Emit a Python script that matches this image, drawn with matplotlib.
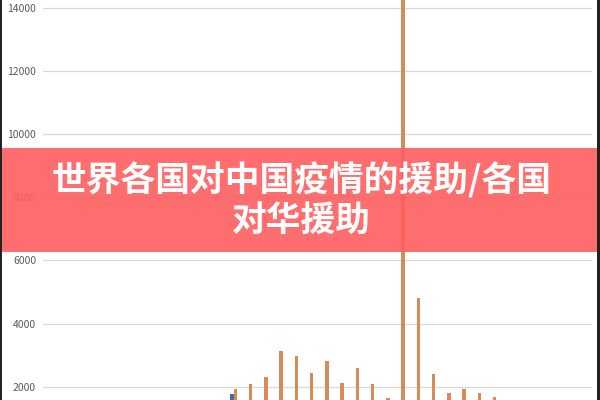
import numpy as np
import matplotlib.pyplot as plt
from matplotlib.patches import Rectangle

plt.rcParams['font.family'] = ['Noto Sans CJK SC', 'DejaVu Sans']

# 36 categories, x labels are cut off in the reference
categories = [str(i + 1) for i in range(36)]
series_a = [60, 80, 110, 90, 150, 130, 200, 180, 260, 240, 320, 400,
            1770, 300, 260, 350, 280, 240, 300, 220, 260, 210, 190, 600,
            420, 260, 200, 180, 160, 150, 120, 100, 90, 70, 60, 50]
series_b = [120, 180, 250, 310, 380, 450, 520, 640, 760, 880, 1050, 1300,
            1930, 2090, 2320, 3140, 2970, 2450, 2830, 2110, 2590, 2090, 1640, 14800,
            4800, 2400, 1810, 1920, 1790, 1690, 1400, 1200, 1000, 800, 600, 400]
y_ticks = [2000, 4000, 6000, 8000, 10000, 12000, 14000]

BLUE = '#4a6b9c'
ORANGE = '#d88b55'

fig = plt.figure(figsize=(6, 4), dpi=100)
ax = fig.add_axes([43 / 600, -50 / 400, 549 / 600, 450 / 400])

x = np.arange(len(categories))
w = 0.23
ax.bar(x - w / 2, series_a, width=w, color=BLUE, zorder=2)
ax.bar(x + w / 2, series_b, width=w, color=ORANGE, zorder=2)

ax.set_xlim(-0.5, len(categories) - 0.5)
ax.set_ylim(0, 14240)
ax.set_yticks(y_ticks)
ax.set_yticklabels([str(t) for t in y_ticks])
ax.set_xticks([])
ax.tick_params(axis='y', length=0, pad=5, labelsize=7.5, labelcolor='#595959')
ax.grid(axis='y', color='#d9d9d9', linewidth=0.9, zorder=0)
for s in ax.spines.values():
    s.set_visible(False)

# red banner with title on top
fig.patches.append(Rectangle((0, 0.37), 1, 0.26, transform=fig.transFigure,
                             facecolor=(1.0, 0.37, 0.37), alpha=0.9, zorder=5))
fig.text(0.502, 0.5, '世界各国对中国疫情的援助/各国\n对华援助', ha='center', va='center',
         multialignment='center', color='white', fontsize=25, fontweight='black',
         linespacing=1.15, zorder=6)

# thin dark frame edges
fig.patches.append(Rectangle((0, 0), 2 / 600, 1, transform=fig.transFigure,
                             facecolor='#222222', zorder=7))
fig.patches.append(Rectangle((1 - 3 / 600, 0), 3 / 600, 1, transform=fig.transFigure,
                             facecolor='#222222', zorder=7))

fig.savefig('out.png', dpi=100)
